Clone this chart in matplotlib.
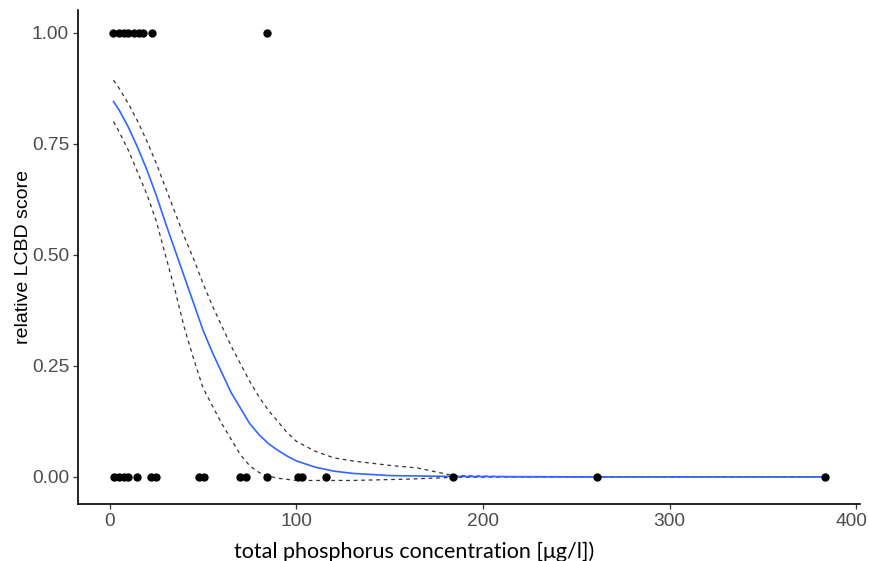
import matplotlib
matplotlib.use("Agg")
import matplotlib.pyplot as plt
import matplotlib.transforms as mtransforms
import numpy as np

# observed points
x_one = [2, 4.8, 7.5, 10, 13, 15.5, 18, 22.5, 84]
y_one = [1] * len(x_one)
x_zero = [2.1, 4.8, 7.5, 9.6, 14.5, 22, 25, 47.6, 50.3, 70, 72.8, 84.5,
          101, 103, 115.6, 184, 261, 383]
y_zero = [0] * len(x_zero)

# fitted curve
fit_x = [2, 5, 10, 15, 20, 25, 30, 35, 40, 45, 50, 55, 60, 65, 70, 75, 80, 85, 90,
         95, 100, 110, 120, 130, 150, 184, 260, 383]
fit_y = [0.845, 0.826, 0.787, 0.741, 0.690, 0.633, 0.570, 0.510, 0.450, 0.390, 0.330,
         0.280, 0.235, 0.190, 0.155, 0.120, 0.095, 0.075, 0.060, 0.047, 0.036, 0.022,
         0.013, 0.008, 0.003, 0.001, 0.0, 0.0]

# confidence band
upper_x = [2, 5, 10, 15, 20, 25, 30, 35, 40, 45, 50, 55, 60, 65, 70, 75, 80, 85, 90,
           95, 100, 110, 120, 130, 150, 165, 184, 220, 383]
upper_y = [0.893, 0.875, 0.840, 0.800, 0.755, 0.705, 0.650, 0.595, 0.540, 0.490, 0.435,
           0.385, 0.340, 0.295, 0.255, 0.215, 0.180, 0.150, 0.125, 0.100, 0.080, 0.058,
           0.043, 0.036, 0.026, 0.020, 0.003, 0.0, 0.0]
lower_x = [2, 5, 10, 15, 20, 25, 29, 35, 40, 45, 50, 55, 60, 65, 70, 75, 80, 85, 90,
           100, 130, 160, 184, 220, 383]
lower_y = [0.800, 0.777, 0.735, 0.685, 0.635, 0.575, 0.512, 0.420, 0.335, 0.265, 0.200,
           0.160, 0.120, 0.085, 0.050, 0.025, 0.010, 0.002, -0.003, -0.008, -0.008,
           -0.005, -0.001, 0.0, 0.0]

xticks = [0, 100, 200, 300, 400]
yticks = [0.00, 0.25, 0.50, 0.75, 1.00]
yticklabels = ["0.00", "0.25", "0.50", "0.75", "1.00"]

fig = plt.figure(figsize=(8.7, 5.61), dpi=100)
ax = fig.add_axes([0.0897, 0.1016, 0.8988, 0.8797])

ax.plot(upper_x, upper_y, color="#333333", lw=0.9, ls=(0, (3, 3)), zorder=2)
ax.plot(lower_x, lower_y, color="#333333", lw=0.9, ls=(0, (3, 3)), zorder=2)
ax.plot(fit_x, fit_y, color="#3366FF", lw=1.2, zorder=3)
ax.scatter(x_one + x_zero, y_one + y_zero, s=36, color="black", zorder=4, linewidths=0)

ax.set_xlim(-17, 402)
ax.set_ylim(-0.061, 1.05)
ax.set_xticks(xticks)
ax.set_yticks(yticks)
ax.set_yticklabels(yticklabels)

for s in ["top", "right"]:
    ax.spines[s].set_visible(False)
for s in ["left", "bottom"]:
    ax.spines[s].set_linewidth(1.2)
    ax.spines[s].set_color("black")

ax.tick_params(axis="both", length=3.5, width=0.9, color="#333333",
               labelcolor="#4D4D4D", labelsize=13.8, pad=3)
for lab in ax.get_xticklabels() + ax.get_yticklabels():
    lab.set_fontfamily("Liberation Sans")

# nudge the last x tick label so it stays inside the figure
last = ax.get_xticklabels()[-1]
last.set_transform(last.get_transform() +
                   mtransforms.ScaledTranslation(-0.05, 0, fig.dpi_scale_trans))

ax.set_ylabel("relative LCBD score", fontsize=14, family="Liberation Sans", color="black")
ax.yaxis.set_label_coords(-0.059, 0.5)
ax.set_xlabel("total phosphorus concentration [μg/l])", fontsize=15.5, family="Lato", color="black")
ax.xaxis.set_label_coords(0.43, -0.075)

fig.savefig("out.png", dpi=100)
